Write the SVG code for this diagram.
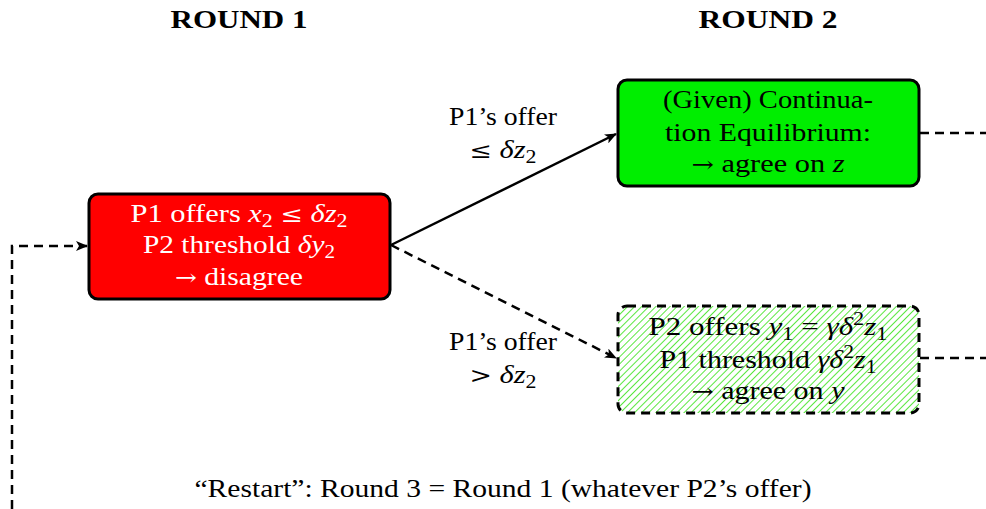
<svg xmlns="http://www.w3.org/2000/svg" width="986" height="509" viewBox="0 0 986 509">
<style>
text{font-family:"Liberation Serif","Times New Roman",serif;font-size:25px;fill:#000;text-anchor:middle}
.hdr{font-weight:bold;font-size:25px}
.w{fill:#fff}
.m{font-style:italic}
.s{font-size:18px}
.sym{font-family:"DejaVu Serif",serif;font-size:22px}
.box{stroke:#000;stroke-width:3}
.dash{stroke:#000;stroke-width:2.5;fill:none;stroke-dasharray:9,6}
.solid{stroke:#000;stroke-width:2.5;fill:none}
</style>
<defs>
<pattern id="hatch" patternUnits="userSpaceOnUse" width="5" height="5" patternTransform="rotate(45)">
<rect width="5" height="5" fill="#fff"/>
<line x1="0" y1="0" x2="0" y2="5" stroke="#22e000" stroke-width="1.5"/>
</pattern>
<marker id="arr" markerWidth="12" markerHeight="10" refX="11" refY="5" orient="auto" markerUnits="userSpaceOnUse">
<path d="M0,0 L12,5 L0,10 L3,5 z" fill="#000"/>
</marker>
</defs>
<text class="hdr" x="239" y="28" textLength="137" lengthAdjust="spacingAndGlyphs">ROUND 1</text>
<text class="hdr" x="768" y="28" textLength="139" lengthAdjust="spacingAndGlyphs">ROUND 2</text>
<g id="connectors">
<line class="solid" x1="391" y1="245" x2="616" y2="134" marker-end="url(#arr)"/>
<line class="dash" x1="391" y1="245" x2="616" y2="358" marker-end="url(#arr)"/>
<path class="dash" d="M12,509 L12,246 L87,246" marker-end="url(#arr)"/>
<line class="dash" x1="920" y1="133" x2="986" y2="133"/>
<line class="dash" x1="920" y1="358" x2="986" y2="358"/>
<text x="503" y="125" textLength="108" lengthAdjust="spacingAndGlyphs">P1’s offer</text>
<text x="503" y="158" textLength="67" lengthAdjust="spacingAndGlyphs"><tspan class="sym">≤</tspan>  <tspan class="m">δz</tspan><tspan class="s" dy="5">2</tspan></text>
<text x="503" y="350" textLength="108" lengthAdjust="spacingAndGlyphs">P1’s offer</text>
<text x="503" y="383" textLength="67" lengthAdjust="spacingAndGlyphs"><tspan class="sym">&gt;</tspan>  <tspan class="m">δz</tspan><tspan class="s" dy="5">2</tspan></text>
</g>
<g id="round1">
<rect class="box" x="89" y="194" width="301" height="105" rx="9" fill="#ff0000"/>
<text class="w" x="239" y="222" textLength="217" lengthAdjust="spacingAndGlyphs">P1 offers <tspan class="m">x</tspan><tspan class="s" dy="5">2</tspan><tspan dy="-5"> </tspan><tspan class="sym">≤</tspan> <tspan class="m">δz</tspan><tspan class="s" dy="5">2</tspan></text>
<text class="w" x="239" y="253" textLength="192" lengthAdjust="spacingAndGlyphs">P2 threshold <tspan class="m">δy</tspan><tspan class="s" dy="5">2</tspan></text>
<text class="w" x="239" y="285" textLength="128" lengthAdjust="spacingAndGlyphs"><tspan class="sym">→</tspan> disagree</text>
</g>
<g id="continuation">
<rect class="box" x="618" y="80" width="301" height="106" rx="9" fill="#00ee00"/>
<text x="768" y="108" textLength="210" lengthAdjust="spacingAndGlyphs">(Given) Continua-</text>
<text x="768" y="141" textLength="206" lengthAdjust="spacingAndGlyphs">tion Equilibrium:</text>
<text x="768" y="172" textLength="153" lengthAdjust="spacingAndGlyphs"><tspan class="sym">→</tspan> agree on <tspan class="m">z</tspan></text>
</g>
<g id="restart-eq">
<rect x="618" y="306" width="301" height="107" rx="9" fill="url(#hatch)" stroke="#000" stroke-width="3" stroke-dasharray="9,6"/>
<text x="768" y="335" textLength="239" lengthAdjust="spacingAndGlyphs">P2 offers <tspan class="m">y</tspan><tspan class="s" dy="5">1</tspan><tspan dy="-5"> = </tspan><tspan class="m">γδ</tspan><tspan class="s" dy="-10">2</tspan><tspan class="m" dy="10">z</tspan><tspan class="s" dy="5">1</tspan></text>
<text x="768" y="368" textLength="217" lengthAdjust="spacingAndGlyphs">P1 threshold <tspan class="m">γδ</tspan><tspan class="s" dy="-10">2</tspan><tspan class="m" dy="10">z</tspan><tspan class="s" dy="5">1</tspan></text>
<text x="768" y="399" textLength="153" lengthAdjust="spacingAndGlyphs"><tspan class="sym">→</tspan> agree on <tspan class="m">y</tspan></text>
</g>
<text x="503" y="497" textLength="617" lengthAdjust="spacingAndGlyphs">“Restart”: Round 3 = Round 1 (whatever P2’s offer)</text>
</svg>
